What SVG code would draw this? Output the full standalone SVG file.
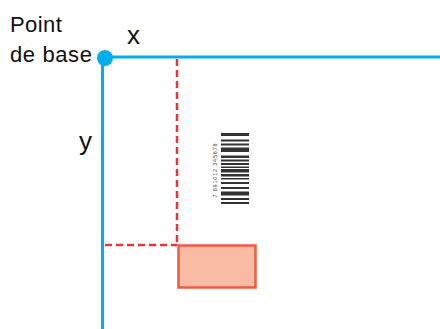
<svg xmlns="http://www.w3.org/2000/svg" width="440" height="329" viewBox="0 0 440 329">
<style>
.lbl{font-family:"Liberation Sans",Arial,sans-serif;fill:#111}
.axis{stroke:#00AEEF;stroke-width:3;fill:none}
.dash{stroke:#EE3338;stroke-width:2.5;stroke-dasharray:7,4;fill:none}
.bar{fill:#333}
</style>
<rect width="440" height="329" fill="#fff"/>
<g id="connectors">
<line class="axis" x1="105" y1="57" x2="440" y2="57"/>
<line class="axis" x1="102.5" y1="57" x2="102.5" y2="329"/>
<line class="dash" x1="177" y1="59" x2="177" y2="245"/>
<line class="dash" x1="105" y1="245" x2="177" y2="245"/>
</g>
<g id="base-point">
<circle cx="105" cy="58" r="8" fill="#00AEEF"/>
<text class="lbl" x="10" y="32" font-size="22" letter-spacing="0.4">Point</text>
<text class="lbl" x="10" y="62" font-size="22" letter-spacing="0.6">de base</text>
</g>
<g id="x-label"><text class="lbl" x="127" y="44" font-size="26">x</text></g>
<g id="y-label"><text class="lbl" x="79" y="150" font-size="26">y</text></g>
<g id="label-rect">
<rect x="178.5" y="245.5" width="77" height="42" fill="#F9BBA3" stroke="#F15A40" stroke-width="2.5"/>
</g>
<g id="barcode">
<rect class="bar" x="221" y="133" width="28" height="3" fill="#444"/>
<rect class="bar" x="221" y="139.5" width="28" height="2" fill="#555"/>
<rect class="bar" x="221" y="143.5" width="28" height="2" fill="#555"/>
<rect class="bar" x="221" y="147.5" width="28" height="4.5" fill="#666"/>
<rect class="bar" x="221" y="155.5" width="28" height="2.5"/>
<rect class="bar" x="221" y="159.5" width="28" height="2"/>
<rect class="bar" x="221" y="163" width="28" height="2"/>
<rect class="bar" x="221" y="166.5" width="28" height="1.5"/>
<rect class="bar" x="221" y="169" width="28" height="3.5"/>
<rect class="bar" x="221" y="174" width="28" height="2.5" fill="#555"/>
<rect class="bar" x="221" y="178" width="28" height="1.5" fill="#666"/>
<rect class="bar" x="221" y="182" width="28" height="2" fill="#666"/>
<rect class="bar" x="221" y="187" width="28" height="2" fill="#666"/>
<rect class="bar" x="221" y="191.5" width="28" height="4"/>
<rect class="bar" x="221" y="198" width="28" height="2" fill="#555"/>
<rect class="bar" x="221" y="202" width="28" height="2" fill="#666"/>
<text x="216.5" y="170" font-family="'Liberation Sans',Arial,sans-serif" font-size="5.5" fill="#444" text-anchor="middle" transform="rotate(-90 216.5 170)" letter-spacing="0.8">7 891012 345678</text>
</g>
</svg>
